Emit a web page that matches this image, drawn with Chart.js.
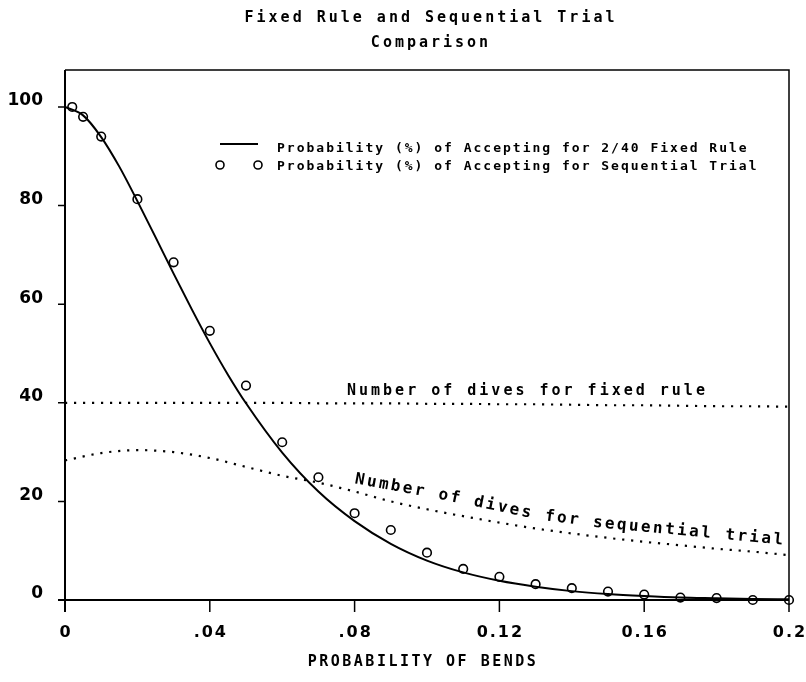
<!DOCTYPE html>
<html>
<head>
<meta charset="utf-8">
<script src="https://cdn.jsdelivr.net/npm/chart.js@4.4.1/dist/chart.umd.min.js"></script>
<style>
  html, body { margin: 0; padding: 0; background: #fff; }
  canvas { display: block; }
</style>
</head>
<body>
<canvas id="chart" width="806" height="682"></canvas>
<script>
// Probability of accepting, 2/40 fixed rule (solid curve)
const bendProb = [0, 0.005, 0.01, 0.015, 0.02, 0.025, 0.03, 0.035, 0.04, 0.045, 0.05,
  0.06, 0.07, 0.08, 0.09, 0.10, 0.11, 0.12, 0.13, 0.14, 0.15, 0.16, 0.17, 0.18, 0.19, 0.20];
const fixedAccept = [100, 98.3, 93.9, 87.9, 80.9, 73.6, 66.2, 59.0, 52.1, 45.7, 39.9,
  29.9, 22.0, 16.0, 11.4, 8.0, 5.6, 3.9, 2.7, 1.8, 1.2, 0.8, 0.5, 0.35, 0.2, 0.15];

// Probability of accepting, sequential trial (circles)
const seqProb = [0.002, 0.005, 0.01, 0.02, 0.03, 0.04, 0.05, 0.06, 0.07, 0.08, 0.09,
  0.10, 0.11, 0.12, 0.13, 0.14, 0.15, 0.16, 0.17, 0.18, 0.19, 0.20];
const seqAccept = [100, 98, 94, 81.3, 68.5, 54.6, 43.5, 32, 24.9, 17.6, 14.2,
  9.6, 6.3, 4.7, 3.2, 2.4, 1.7, 1.1, 0.5, 0.4, 0, 0];

// Number of dives (dotted curves)
const divesProb = [0, 0.01, 0.02, 0.03, 0.04, 0.05, 0.06, 0.07, 0.08, 0.09, 0.10,
  0.11, 0.12, 0.13, 0.14, 0.15, 0.16, 0.17, 0.18, 0.19, 0.20];
const fixedDives = [40, 40, 40, 40, 40, 40, 40, 39.9, 39.9, 39.9, 39.8,
  39.8, 39.7, 39.7, 39.6, 39.5, 39.5, 39.4, 39.3, 39.3, 39.2];
const seqDives = [28.3, 29.8, 30.4, 30.0, 28.8, 27.0, 25.2, 23.8, 22.0, 20.0, 18.4,
  17.0, 15.7, 14.5, 13.5, 12.6, 11.8, 11.1, 10.4, 9.8, 9.1];

const xTicks = [0, 0.04, 0.08, 0.12, 0.16, 0.2];
const xTickLabels = ['0', '.04', '.08', '0.12', '0.16', '0.2'];
const yTicks = [0, 20, 40, 60, 80, 100];

const titleLines = ['Fixed Rule and Sequential Trial', 'Comparison'];
const xTitle = 'PROBABILITY OF BENDS';
const legendLabels = [
  'Probability (%) of Accepting for 2/40 Fixed Rule',
  'Probability (%) of Accepting for Sequential Trial'
];
const fixedLabel = 'Number of dives for fixed rule';
const seqLabel = 'Number of dives for sequential trial';
// baseline of the curved label, in data units
const seqLabelPath = [[0.0796, 23.7], [0.1036, 20.5], [0.1312, 16.3], [0.1478, 14.7], [0.1975, 11.3]];

const pts = (xs, ys) => xs.map((x, i) => ({ x: x, y: ys[i] }));

const plotFont = '"DejaVu Sans Mono", monospace';

// text placed char by char along a polyline
function textOnPath(ctx, text, path, advance) {
  const seg = [];
  let total = 0;
  for (let i = 1; i < path.length; i++) {
    const dx = path[i][0] - path[i - 1][0], dy = path[i][1] - path[i - 1][1];
    const len = Math.hypot(dx, dy);
    seg.push({ x: path[i - 1][0], y: path[i - 1][1], dx: dx, dy: dy, len: len, start: total });
    total += len;
  }
  ctx.textAlign = 'center';
  ctx.textBaseline = 'alphabetic';
  for (let i = 0; i < text.length; i++) {
    const s = Math.min(i * advance + advance / 2, total - 0.01);
    let k = seg.findIndex(g => s >= g.start && s < g.start + g.len);
    if (k < 0) k = seg.length - 1;
    const g = seg[k];
    const t = (s - g.start) / g.len;
    ctx.save();
    ctx.translate(g.x + g.dx * t, g.y + g.dy * t);
    ctx.rotate(Math.atan2(g.dy, g.dx));
    ctx.fillText(text[i], 0, 0);
    ctx.restore();
  }
}

const decorations = {
  id: 'decorations',
  beforeDatasetsDraw(chart) {
    const ctx = chart.ctx;
    const { left, right, top, bottom } = chart.chartArea;
    const xs = chart.scales.x, ys = chart.scales.y;
    ctx.save();
    ctx.strokeStyle = '#000';
    ctx.fillStyle = '#000';

    // frame
    ctx.lineWidth = 1.5;
    ctx.beginPath();
    ctx.moveTo(left, top); ctx.lineTo(right, top); ctx.lineTo(right, bottom);
    ctx.stroke();
    ctx.lineWidth = 2;
    ctx.beginPath();
    ctx.moveTo(left, top); ctx.lineTo(left, bottom + 12);
    ctx.moveTo(left - 7, bottom); ctx.lineTo(right, bottom);
    ctx.stroke();

    // ticks
    ctx.lineWidth = 1.5;
    ctx.beginPath();
    xTicks.forEach(v => {
      const x = xs.getPixelForValue(v);
      ctx.moveTo(x, bottom); ctx.lineTo(x, bottom + 12);
    });
    yTicks.forEach(v => {
      const y = ys.getPixelForValue(v);
      ctx.moveTo(left - 7, y); ctx.lineTo(left, y);
    });
    ctx.stroke();

    // tick labels
    ctx.font = 'bold 17px "DejaVu Sans"';
    ctx.textAlign = 'right';
    ctx.textBaseline = 'middle';
    yTicks.forEach(v => ctx.fillText(String(v), left - 22, ys.getPixelForValue(v) - 6));
    ctx.textAlign = 'center';
    ctx.font = 'bold 16px "DejaVu Sans"';
    ctx.letterSpacing = '2px';
    xTicks.forEach((v, i) => ctx.fillText(xTickLabels[i], xs.getPixelForValue(v) + 1, bottom + 33));

    // axis title
    ctx.font = 'bold 15px ' + plotFont;
    ctx.letterSpacing = '2.5px';
    ctx.fillText(xTitle, (left + right) / 2 - 4, bottom + 62);

    // chart title
    ctx.letterSpacing = '3px';
    ctx.fillText(titleLines[0], (left + right) / 2 + 4, 18);
    ctx.fillText(titleLines[1], (left + right) / 2 + 4, 43);

    // legend
    ctx.font = 'bold 13px ' + plotFont;
    ctx.letterSpacing = '2px';
    ctx.textAlign = 'left';
    ctx.fillText(legendLabels[0], 277, 149);
    ctx.fillText(legendLabels[1], 277, 167);
    ctx.letterSpacing = '0px';
    ctx.lineWidth = 2;
    ctx.beginPath();
    ctx.moveTo(220, 144); ctx.lineTo(258, 144);
    ctx.stroke();
    ctx.lineWidth = 1.6;
    [220, 258].forEach(cx => {
      ctx.beginPath();
      ctx.arc(cx, 165, 4, 0, Math.PI * 2);
      ctx.stroke();
    });

    // curve labels
    ctx.font = 'bold 15px ' + plotFont;
    ctx.letterSpacing = '3px';
    ctx.textAlign = 'left';
    ctx.textBaseline = 'alphabetic';
    ctx.fillText(fixedLabel, xs.getPixelForValue(0.0779), ys.getPixelForValue(41.6));
    ctx.letterSpacing = '0px';
    ctx.font = 'bold 16px ' + plotFont;
    const path = seqLabelPath.map(p => [xs.getPixelForValue(p[0]), ys.getPixelForValue(p[1])]);
    textOnPath(ctx, seqLabel, path, 12.1);

    ctx.restore();
  }
};

new Chart(document.getElementById('chart'), {
  type: 'scatter',
  data: {
    datasets: [
      {
        label: legendLabels[0],
        data: pts(bendProb, fixedAccept),
        showLine: true,
        borderColor: '#000',
        borderWidth: 2,
        pointRadius: 0,
        cubicInterpolationMode: 'monotone'
      },
      {
        label: legendLabels[1],
        data: pts(seqProb, seqAccept),
        showLine: false,
        pointStyle: 'circle',
        pointRadius: 4.3,
        pointBorderWidth: 1.6,
        pointBorderColor: '#000',
        pointBackgroundColor: 'rgba(0,0,0,0)',
        clip: false
      },
      {
        label: fixedLabel,
        data: pts(divesProb, fixedDives),
        showLine: true,
        borderColor: '#000',
        borderWidth: 2.2,
        borderDash: [2.2, 6.8],
        pointRadius: 0
      },
      {
        label: seqLabel,
        data: pts(divesProb, seqDives),
        showLine: true,
        borderColor: '#000',
        borderWidth: 2.2,
        borderDash: [2.2, 6.8],
        pointRadius: 0,
        cubicInterpolationMode: 'monotone'
      }
    ]
  },
  options: {
    responsive: false,
    animation: false,
    layout: { padding: { left: 65, right: 17, top: 70, bottom: 82 } },
    scales: {
      x: { type: 'linear', min: 0, max: 0.2, display: false },
      y: { type: 'linear', min: 0, max: 107.5, display: false }
    },
    plugins: {
      legend: { display: false },
      tooltip: { enabled: false },
      title: { display: false }
    }
  },
  plugins: [decorations]
});
</script>
</body>
</html>
